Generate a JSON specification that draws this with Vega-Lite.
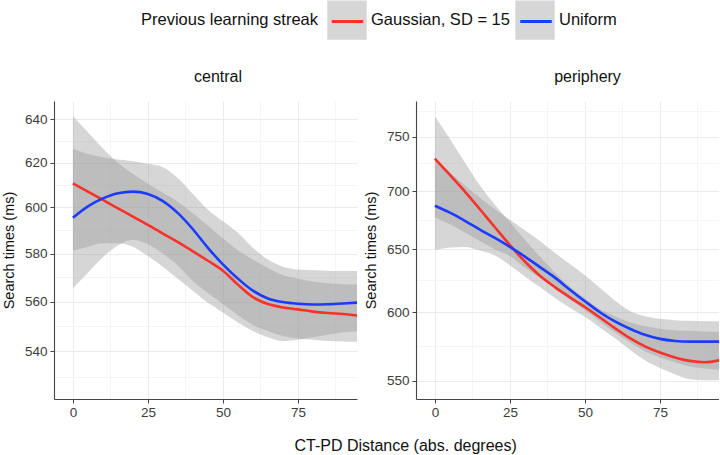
{
  "$schema": "https://vega.github.io/schema/vega-lite/v6.json",
  "padding": {"left": 1, "top": 0, "right": 0, "bottom": 0},
  "autosize": {"type": "pad"},
  "config": {
    "font": "Liberation Sans",
    "view": {"stroke": null},
    "axis": {
      "domainColor": "#444444", "domainWidth": 1.1, "tickColor": "#444444", "tickSize": 4, "tickWidth": 1,
      "labelFontSize": 13.5, "labelColor": "#3c3c3c", "titleFontSize": 14.5, "titleFontWeight": "normal", "titleColor": "#111111",
      "labelFlush": false, "labelOverlap": false, "gridWidth": 1
    }
  },
  "datasets": {
    "lines": [
      {"panel":"central","series":"Gaussian, SD = 15","x":0,"y":610.7},
      {"panel":"central","series":"Gaussian, SD = 15","x":5,"y":607.0},
      {"panel":"central","series":"Gaussian, SD = 15","x":10,"y":603.3},
      {"panel":"central","series":"Gaussian, SD = 15","x":15,"y":599.6},
      {"panel":"central","series":"Gaussian, SD = 15","x":20,"y":596.0},
      {"panel":"central","series":"Gaussian, SD = 15","x":25,"y":592.4},
      {"panel":"central","series":"Gaussian, SD = 15","x":30,"y":588.6},
      {"panel":"central","series":"Gaussian, SD = 15","x":35,"y":584.9},
      {"panel":"central","series":"Gaussian, SD = 15","x":40,"y":581.0},
      {"panel":"central","series":"Gaussian, SD = 15","x":45,"y":577.0},
      {"panel":"central","series":"Gaussian, SD = 15","x":50,"y":572.8},
      {"panel":"central","series":"Gaussian, SD = 15","x":55,"y":567.0},
      {"panel":"central","series":"Gaussian, SD = 15","x":60,"y":561.8},
      {"panel":"central","series":"Gaussian, SD = 15","x":65,"y":559.0},
      {"panel":"central","series":"Gaussian, SD = 15","x":70,"y":557.6},
      {"panel":"central","series":"Gaussian, SD = 15","x":75,"y":556.8},
      {"panel":"central","series":"Gaussian, SD = 15","x":80,"y":555.9},
      {"panel":"central","series":"Gaussian, SD = 15","x":85,"y":555.3},
      {"panel":"central","series":"Gaussian, SD = 15","x":90,"y":554.9},
      {"panel":"central","series":"Gaussian, SD = 15","x":95,"y":554.3},
      {"panel":"central","series":"Uniform","x":0,"y":595.5},
      {"panel":"central","series":"Uniform","x":5,"y":600.5},
      {"panel":"central","series":"Uniform","x":10,"y":604.0},
      {"panel":"central","series":"Uniform","x":15,"y":606.3},
      {"panel":"central","series":"Uniform","x":20,"y":607.0},
      {"panel":"central","series":"Uniform","x":25,"y":606.0},
      {"panel":"central","series":"Uniform","x":30,"y":602.8},
      {"panel":"central","series":"Uniform","x":35,"y":597.5},
      {"panel":"central","series":"Uniform","x":40,"y":590.5},
      {"panel":"central","series":"Uniform","x":45,"y":582.5},
      {"panel":"central","series":"Uniform","x":50,"y":575.5},
      {"panel":"central","series":"Uniform","x":55,"y":569.5},
      {"panel":"central","series":"Uniform","x":60,"y":564.5},
      {"panel":"central","series":"Uniform","x":65,"y":561.3},
      {"panel":"central","series":"Uniform","x":70,"y":559.8},
      {"panel":"central","series":"Uniform","x":75,"y":559.1},
      {"panel":"central","series":"Uniform","x":80,"y":558.8},
      {"panel":"central","series":"Uniform","x":85,"y":558.9},
      {"panel":"central","series":"Uniform","x":90,"y":559.2},
      {"panel":"central","series":"Uniform","x":95,"y":559.6},
      {"panel":"periphery","series":"Gaussian, SD = 15","x":0,"y":729.5},
      {"panel":"periphery","series":"Gaussian, SD = 15","x":5,"y":714.5},
      {"panel":"periphery","series":"Gaussian, SD = 15","x":10,"y":699.5},
      {"panel":"periphery","series":"Gaussian, SD = 15","x":15,"y":684},
      {"panel":"periphery","series":"Gaussian, SD = 15","x":20,"y":668.5},
      {"panel":"periphery","series":"Gaussian, SD = 15","x":25,"y":653.5},
      {"panel":"periphery","series":"Gaussian, SD = 15","x":30,"y":640},
      {"panel":"periphery","series":"Gaussian, SD = 15","x":35,"y":628.5},
      {"panel":"periphery","series":"Gaussian, SD = 15","x":40,"y":619.5},
      {"panel":"periphery","series":"Gaussian, SD = 15","x":45,"y":611.5},
      {"panel":"periphery","series":"Gaussian, SD = 15","x":50,"y":604},
      {"panel":"periphery","series":"Gaussian, SD = 15","x":55,"y":596},
      {"panel":"periphery","series":"Gaussian, SD = 15","x":60,"y":588},
      {"panel":"periphery","series":"Gaussian, SD = 15","x":65,"y":580.5},
      {"panel":"periphery","series":"Gaussian, SD = 15","x":70,"y":574.5},
      {"panel":"periphery","series":"Gaussian, SD = 15","x":75,"y":570},
      {"panel":"periphery","series":"Gaussian, SD = 15","x":80,"y":566.5},
      {"panel":"periphery","series":"Gaussian, SD = 15","x":85,"y":564},
      {"panel":"periphery","series":"Gaussian, SD = 15","x":90,"y":563},
      {"panel":"periphery","series":"Gaussian, SD = 15","x":95,"y":564.5},
      {"panel":"periphery","series":"Uniform","x":0,"y":687},
      {"panel":"periphery","series":"Uniform","x":5,"y":681},
      {"panel":"periphery","series":"Uniform","x":10,"y":674},
      {"panel":"periphery","series":"Uniform","x":15,"y":666.5},
      {"panel":"periphery","series":"Uniform","x":20,"y":659.5},
      {"panel":"periphery","series":"Uniform","x":25,"y":652},
      {"panel":"periphery","series":"Uniform","x":30,"y":644},
      {"panel":"periphery","series":"Uniform","x":35,"y":635.5},
      {"panel":"periphery","series":"Uniform","x":40,"y":627},
      {"panel":"periphery","series":"Uniform","x":45,"y":617.5},
      {"panel":"periphery","series":"Uniform","x":50,"y":608.5},
      {"panel":"periphery","series":"Uniform","x":55,"y":600},
      {"panel":"periphery","series":"Uniform","x":60,"y":593},
      {"panel":"periphery","series":"Uniform","x":65,"y":587.5},
      {"panel":"periphery","series":"Uniform","x":70,"y":583},
      {"panel":"periphery","series":"Uniform","x":75,"y":580},
      {"panel":"periphery","series":"Uniform","x":80,"y":578.5},
      {"panel":"periphery","series":"Uniform","x":85,"y":578},
      {"panel":"periphery","series":"Uniform","x":90,"y":578},
      {"panel":"periphery","series":"Uniform","x":95,"y":578}
    ],
    "bands": [
      {"panel":"central","band":"Gaussian, SD = 15","x":0,"lo":565.5,"hi":641.6},
      {"panel":"central","band":"Gaussian, SD = 15","x":5,"lo":572,"hi":634},
      {"panel":"central","band":"Gaussian, SD = 15","x":10,"lo":578.5,"hi":626.5},
      {"panel":"central","band":"Gaussian, SD = 15","x":15,"lo":583.5,"hi":620},
      {"panel":"central","band":"Gaussian, SD = 15","x":20,"lo":586,"hi":615},
      {"panel":"central","band":"Gaussian, SD = 15","x":25,"lo":584,"hi":610.5},
      {"panel":"central","band":"Gaussian, SD = 15","x":30,"lo":580,"hi":606.5},
      {"panel":"central","band":"Gaussian, SD = 15","x":35,"lo":575,"hi":602.5},
      {"panel":"central","band":"Gaussian, SD = 15","x":40,"lo":568.5,"hi":597.5},
      {"panel":"central","band":"Gaussian, SD = 15","x":45,"lo":563.5,"hi":592},
      {"panel":"central","band":"Gaussian, SD = 15","x":50,"lo":559,"hi":586.5},
      {"panel":"central","band":"Gaussian, SD = 15","x":55,"lo":554.5,"hi":581.5},
      {"panel":"central","band":"Gaussian, SD = 15","x":60,"lo":550.5,"hi":577.5},
      {"panel":"central","band":"Gaussian, SD = 15","x":65,"lo":548,"hi":574},
      {"panel":"central","band":"Gaussian, SD = 15","x":70,"lo":546,"hi":571},
      {"panel":"central","band":"Gaussian, SD = 15","x":75,"lo":545,"hi":569.5},
      {"panel":"central","band":"Gaussian, SD = 15","x":80,"lo":544.5,"hi":568.3},
      {"panel":"central","band":"Gaussian, SD = 15","x":85,"lo":544,"hi":567.6},
      {"panel":"central","band":"Gaussian, SD = 15","x":90,"lo":543.8,"hi":567.2},
      {"panel":"central","band":"Gaussian, SD = 15","x":95,"lo":543.7,"hi":567},
      {"panel":"central","band":"Uniform","x":0,"lo":581.3,"hi":626.4},
      {"panel":"central","band":"Uniform","x":5,"lo":583,"hi":624},
      {"panel":"central","band":"Uniform","x":10,"lo":584.5,"hi":622.5},
      {"panel":"central","band":"Uniform","x":15,"lo":584.5,"hi":621.5},
      {"panel":"central","band":"Uniform","x":20,"lo":583,"hi":620.7},
      {"panel":"central","band":"Uniform","x":25,"lo":579,"hi":619.5},
      {"panel":"central","band":"Uniform","x":30,"lo":574.5,"hi":618},
      {"panel":"central","band":"Uniform","x":35,"lo":569.5,"hi":613},
      {"panel":"central","band":"Uniform","x":40,"lo":564.5,"hi":606},
      {"panel":"central","band":"Uniform","x":45,"lo":559.5,"hi":599},
      {"panel":"central","band":"Uniform","x":50,"lo":555.5,"hi":594},
      {"panel":"central","band":"Uniform","x":55,"lo":551.5,"hi":589},
      {"panel":"central","band":"Uniform","x":60,"lo":548,"hi":582.5},
      {"panel":"central","band":"Uniform","x":65,"lo":545.5,"hi":577.5},
      {"panel":"central","band":"Uniform","x":70,"lo":544,"hi":574.5},
      {"panel":"central","band":"Uniform","x":75,"lo":544.5,"hi":573.3},
      {"panel":"central","band":"Uniform","x":80,"lo":545.5,"hi":573},
      {"panel":"central","band":"Uniform","x":85,"lo":546.5,"hi":572.8},
      {"panel":"central","band":"Uniform","x":90,"lo":547.5,"hi":572.7},
      {"panel":"central","band":"Uniform","x":95,"lo":548,"hi":572.7},
      {"panel":"periphery","band":"Gaussian, SD = 15","x":0,"lo":649.5,"hi":770},
      {"panel":"periphery","band":"Gaussian, SD = 15","x":5,"lo":651.5,"hi":748},
      {"panel":"periphery","band":"Gaussian, SD = 15","x":10,"lo":652,"hi":726},
      {"panel":"periphery","band":"Gaussian, SD = 15","x":15,"lo":649,"hi":705},
      {"panel":"periphery","band":"Gaussian, SD = 15","x":20,"lo":645,"hi":688},
      {"panel":"periphery","band":"Gaussian, SD = 15","x":25,"lo":637,"hi":673},
      {"panel":"periphery","band":"Gaussian, SD = 15","x":30,"lo":628,"hi":658},
      {"panel":"periphery","band":"Gaussian, SD = 15","x":35,"lo":619.5,"hi":644},
      {"panel":"periphery","band":"Gaussian, SD = 15","x":40,"lo":611,"hi":631},
      {"panel":"periphery","band":"Gaussian, SD = 15","x":45,"lo":603.5,"hi":620},
      {"panel":"periphery","band":"Gaussian, SD = 15","x":50,"lo":596.5,"hi":610.5},
      {"panel":"periphery","band":"Gaussian, SD = 15","x":55,"lo":588.5,"hi":602.5},
      {"panel":"periphery","band":"Gaussian, SD = 15","x":60,"lo":580.5,"hi":597},
      {"panel":"periphery","band":"Gaussian, SD = 15","x":65,"lo":572,"hi":592.5},
      {"panel":"periphery","band":"Gaussian, SD = 15","x":70,"lo":564.5,"hi":589.5},
      {"panel":"periphery","band":"Gaussian, SD = 15","x":75,"lo":559,"hi":587.5},
      {"panel":"periphery","band":"Gaussian, SD = 15","x":80,"lo":554.5,"hi":586.5},
      {"panel":"periphery","band":"Gaussian, SD = 15","x":85,"lo":551,"hi":586},
      {"panel":"periphery","band":"Gaussian, SD = 15","x":90,"lo":550.2,"hi":585.5},
      {"panel":"periphery","band":"Gaussian, SD = 15","x":95,"lo":550.5,"hi":585.3},
      {"panel":"periphery","band":"Uniform","x":0,"lo":677,"hi":728.5},
      {"panel":"periphery","band":"Uniform","x":5,"lo":671,"hi":717},
      {"panel":"periphery","band":"Uniform","x":10,"lo":664,"hi":705},
      {"panel":"periphery","band":"Uniform","x":15,"lo":657,"hi":694},
      {"panel":"periphery","band":"Uniform","x":20,"lo":650,"hi":684},
      {"panel":"periphery","band":"Uniform","x":25,"lo":644.5,"hi":675},
      {"panel":"periphery","band":"Uniform","x":30,"lo":635,"hi":666},
      {"panel":"periphery","band":"Uniform","x":35,"lo":627,"hi":657},
      {"panel":"periphery","band":"Uniform","x":40,"lo":618.5,"hi":647},
      {"panel":"periphery","band":"Uniform","x":45,"lo":610,"hi":638},
      {"panel":"periphery","band":"Uniform","x":50,"lo":601.5,"hi":629},
      {"panel":"periphery","band":"Uniform","x":55,"lo":593,"hi":619},
      {"panel":"periphery","band":"Uniform","x":60,"lo":585,"hi":609},
      {"panel":"periphery","band":"Uniform","x":65,"lo":577.5,"hi":601},
      {"panel":"periphery","band":"Uniform","x":70,"lo":571,"hi":597},
      {"panel":"periphery","band":"Uniform","x":75,"lo":566.5,"hi":595},
      {"panel":"periphery","band":"Uniform","x":80,"lo":563,"hi":594},
      {"panel":"periphery","band":"Uniform","x":85,"lo":560,"hi":593.5},
      {"panel":"periphery","band":"Uniform","x":90,"lo":558.5,"hi":593.2},
      {"panel":"periphery","band":"Uniform","x":95,"lo":557.6,"hi":593.2}
    ]
  },
  "title": {"text": "CT-PD Distance (abs. degrees)", "orient": "bottom", "anchor": "start", "fontSize": 16, "fontWeight": "normal", "color": "#111111", "dx": 293, "offset": 19},
  "spacing": 6,
  "resolve": {"scale": {"x": "independent", "y": "independent", "fill": "shared", "stroke": "shared"}},
  "hconcat": [
    {
      "width": 303, "height": 298,
      "title": {"text": "central", "frame": "group", "dx": 12.5, "fontSize": 16, "fontWeight": "normal", "color": "#111111", "offset": 16},
      "layer": [
        {
          "data": {"name": "bands"},
          "transform": [{"filter": "datum.panel === 'central'"}],
          "mark": {"type": "area", "fillOpacity": 0.4, "interpolate": "monotone", "clip": true},
          "encoding": {
            "x": {"field": "x", "type": "quantitative", "scale": {"domain": [-6.3, 94.7], "nice": false, "zero": false},
              "axis": {"title": null, "values": [0, 12.5, 25, 37.5, 50, 62.5, 75, 87.5], "labelPadding": 2,
                "labelExpr": "datum.value % 25 === 0 ? datum.label : ''",
                "tickOpacity": {"condition": {"test": "datum.value % 25 === 0", "value": 1}, "value": 0},
                "gridColor": {"condition": {"test": "datum.value % 25 === 0", "value": "#ebebeb"}, "value": "#f5f5f5"}}},
            "y": {"field": "lo", "type": "quantitative", "stack": null, "scale": {"type": "log", "domain": [521.4, 648.7], "nice": false},
              "axis": {"title": "Search times (ms)", "titlePadding": 8, "labelPadding": 3, "values": [530, 540, 550, 560, 570, 580, 590, 600, 610, 620, 630, 640],
                "labelExpr": "datum.value % 20 === 0 ? format(datum.value, 'd') : ''",
                "tickOpacity": {"condition": {"test": "datum.value % 20 === 0", "value": 1}, "value": 0},
                "gridColor": {"condition": {"test": "datum.value % 20 === 0", "value": "#ebebeb"}, "value": "#f5f5f5"}}},
            "y2": {"field": "hi"},
            "fill": {"field": "band", "type": "nominal", "scale": {"range": ["#999999", "#999999"]},
              "legend": {"title": "Previous learning streak", "orient": "none", "legendX": 87, "legendY": -101, "direction": "horizontal",
                "titleOrient": "left", "titleFontSize": 16.5, "titleFontWeight": "normal", "titleColor": "#111111", "titlePadding": 8,
                "labelFontSize": 16.5, "labelColor": "#111111", "labelOffset": 4, "columnPadding": 5,
                "symbolType": "square", "symbolSize": 1552, "symbolOpacity": 0.4, "symbolStrokeWidth": 0, "zindex": 0}}
          }
        },
        {
          "data": {"name": "lines"},
          "transform": [{"filter": "datum.panel === 'central'"}],
          "mark": {"type": "line", "strokeWidth": 2.6, "interpolate": "monotone", "clip": true},
          "encoding": {
            "x": {"field": "x", "type": "quantitative"},
            "y": {"field": "y", "type": "quantitative"},
            "stroke": {"field": "series", "type": "nominal", "scale": {"domain": ["Gaussian, SD = 15", "Uniform"], "range": ["#F8312B", "#1B3BFF"]},
              "legend": {"title": null, "orient": "none", "legendX": 272, "legendY": -101, "direction": "horizontal",
                "labelExpr": "''", "labelFontSize": 16.5, "labelOffset": 4, "columnPadding": 140.5,
                "symbolType": "M-0.8,0H0.8", "symbolSize": 1552, "symbolStrokeWidth": 3, "symbolFillColor": "transparent", "zindex": 1}}
          }
        }
      ]
    },
    {
      "width": 303, "height": 298,
      "title": {"text": "periphery", "frame": "group", "dx": 20, "fontSize": 16, "fontWeight": "normal", "color": "#111111", "offset": 16},
      "layer": [
        {
          "data": {"name": "bands"},
          "transform": [{"filter": "datum.panel === 'periphery'"}],
          "mark": {"type": "area", "fillOpacity": 0.4, "interpolate": "monotone", "clip": true},
          "encoding": {
            "x": {"field": "x", "type": "quantitative", "scale": {"domain": [-6.3, 94.7], "nice": false, "zero": false},
              "axis": {"title": null, "values": [0, 12.5, 25, 37.5, 50, 62.5, 75, 87.5], "labelPadding": 2,
                "labelExpr": "datum.value % 25 === 0 ? datum.label : ''",
                "tickOpacity": {"condition": {"test": "datum.value % 25 === 0", "value": 1}, "value": 0},
                "gridColor": {"condition": {"test": "datum.value % 25 === 0", "value": "#ebebeb"}, "value": "#f5f5f5"}}},
            "y": {"field": "lo", "type": "quantitative", "stack": null, "scale": {"type": "log", "domain": [537.3, 785], "nice": false},
              "axis": {"title": "Search times (ms)", "titlePadding": 8, "labelPadding": 3, "values": [550, 575, 600, 625, 650, 675, 700, 725, 750, 775],
                "labelExpr": "datum.value % 50 === 0 ? format(datum.value, 'd') : ''",
                "tickOpacity": {"condition": {"test": "datum.value % 50 === 0", "value": 1}, "value": 0},
                "gridColor": {"condition": {"test": "datum.value % 50 === 0", "value": "#ebebeb"}, "value": "#f5f5f5"}}},
            "y2": {"field": "hi"},
            "fill": {"field": "band", "type": "nominal"}
          }
        },
        {
          "data": {"name": "lines"},
          "transform": [{"filter": "datum.panel === 'periphery'"}],
          "mark": {"type": "line", "strokeWidth": 2.6, "interpolate": "monotone", "clip": true},
          "encoding": {
            "x": {"field": "x", "type": "quantitative"},
            "y": {"field": "y", "type": "quantitative"},
            "stroke": {"field": "series", "type": "nominal"}
          }
        }
      ]
    }
  ]
}
